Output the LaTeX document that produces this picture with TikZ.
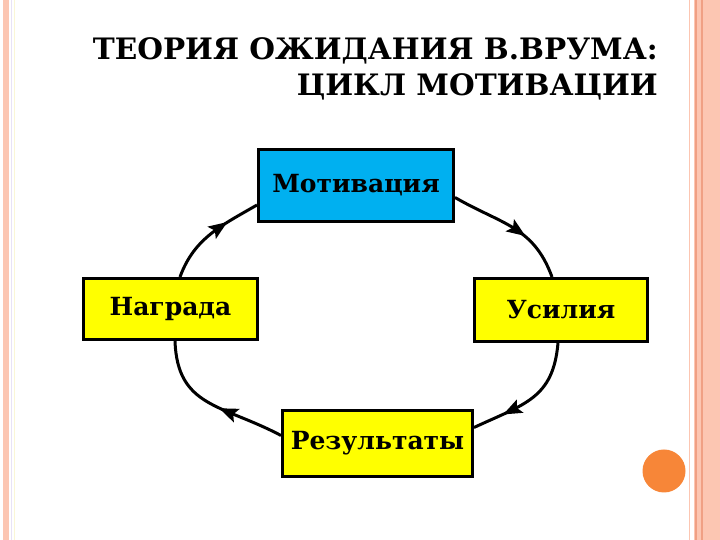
\documentclass[tikz,border=0pt]{standalone}
\usepackage{fontspec}
\setmainfont{DejaVu Serif}
\newfontfamily\vrboxfont{DejaVu Serif}
\usetikzlibrary{decorations.markings}
\definecolor{VrBlue}{RGB}{0,176,240}
\definecolor{VrYellow}{RGB}{255,255,0}
\definecolor{VrSalmon}{RGB}{252,198,178}
\definecolor{VrRust}{RGB}{240,160,132}
\definecolor{VrLilac}{RGB}{232,226,246}
\definecolor{VrCream}{RGB}{250,246,214}
\definecolor{VrOrange}{RGB}{247,134,56}
\tikzset{
  vr/box/.style={
    draw=black,
    line width=3pt,
    fill=VrYellow,
    align=center,
    text=black,
    inner sep=0pt,
    font=\vrboxfont\bfseries\fontsize{25}{30}\selectfont
  },
  vr/hotbox/.style={vr/box, fill=VrBlue},
  vr/title/.style={
    font=\bfseries\fontsize{29.5}{36}\selectfont,
    text=black,
    align=right,
    inner sep=0pt
  },
  vr/cycle/.style={
    line width=3pt,
    draw=black,
    postaction={decorate},
    decoration={markings,
      mark=at position #1 with {\fill[black] (9pt,0) -- (-10pt,7.5pt) -- (-6pt,0) -- (-10pt,-7.5pt) -- cycle;}}
  },
  vr/dot/.style={circle, fill=VrOrange, inner sep=0pt, minimum size=43pt}
}
\begin{document}
\begin{tikzpicture}[x=1pt,y=1pt]
  \useasboundingbox (0,0) rectangle (720,540);
  \fill[white] (0,0) rectangle (720,540);
  % page borders
  \fill[VrSalmon] (3,0) rectangle (9,540);
  \draw[VrLilac,line width=1pt] (11,0) -- (11,540);
  \draw[VrCream,line width=1pt] (14,0) -- (14,540);
  \draw[VrSalmon,line width=1pt] (689.5,0) -- (689.5,540);
  \fill[VrSalmon] (694,0) rectangle (720,540);
  \draw[VrRust,line width=1.5pt] (696,0) -- (696,540);
  \draw[VrRust,line width=1.5pt] (702,0) -- (702,540);
  \node[vr/title,anchor=north east] (title) at (658,503) {ТЕОРИЯ ОЖИДАНИЯ В.ВРУМА:\\ЦИКЛ МОТИВАЦИИ};
  \node[vr/hotbox,minimum width=195pt,minimum height=72pt] (mot) at (356,354.5) {Мотивация};
  \node[vr/box,minimum width=173pt,minimum height=63pt] (usil) at (561,230) {Усилия};
  \node[vr/box,minimum width=190pt,minimum height=66pt] (res) at (377.5,96.5) {Результаты};
  \node[vr/box,minimum width=174pt,minimum height=61pt] (nag) at (170.5,231) {Награда};
  \draw[vr/cycle=0.55] ([yshift=-12pt]mot.east) to[out=-30,in=110,looseness=1.1] ([xshift=-9pt]usil.north);
  \draw[vr/cycle=0.68] ([xshift=-3pt]usil.south) to[out=-95,in=25,looseness=1.2] ([yshift=16pt]res.east);
  \draw[vr/cycle=0.38] ([yshift=8pt]res.west) to[out=152,in=-88,looseness=1.2] ([xshift=4.5pt]nag.south);
  \draw[vr/cycle=0.6] ([xshift=9.5pt]nag.north) to[out=70,in=210] ([yshift=-19.5pt]mot.west);
  \node[vr/dot] (dot) at (664,69) {};
\end{tikzpicture}
\end{document}
